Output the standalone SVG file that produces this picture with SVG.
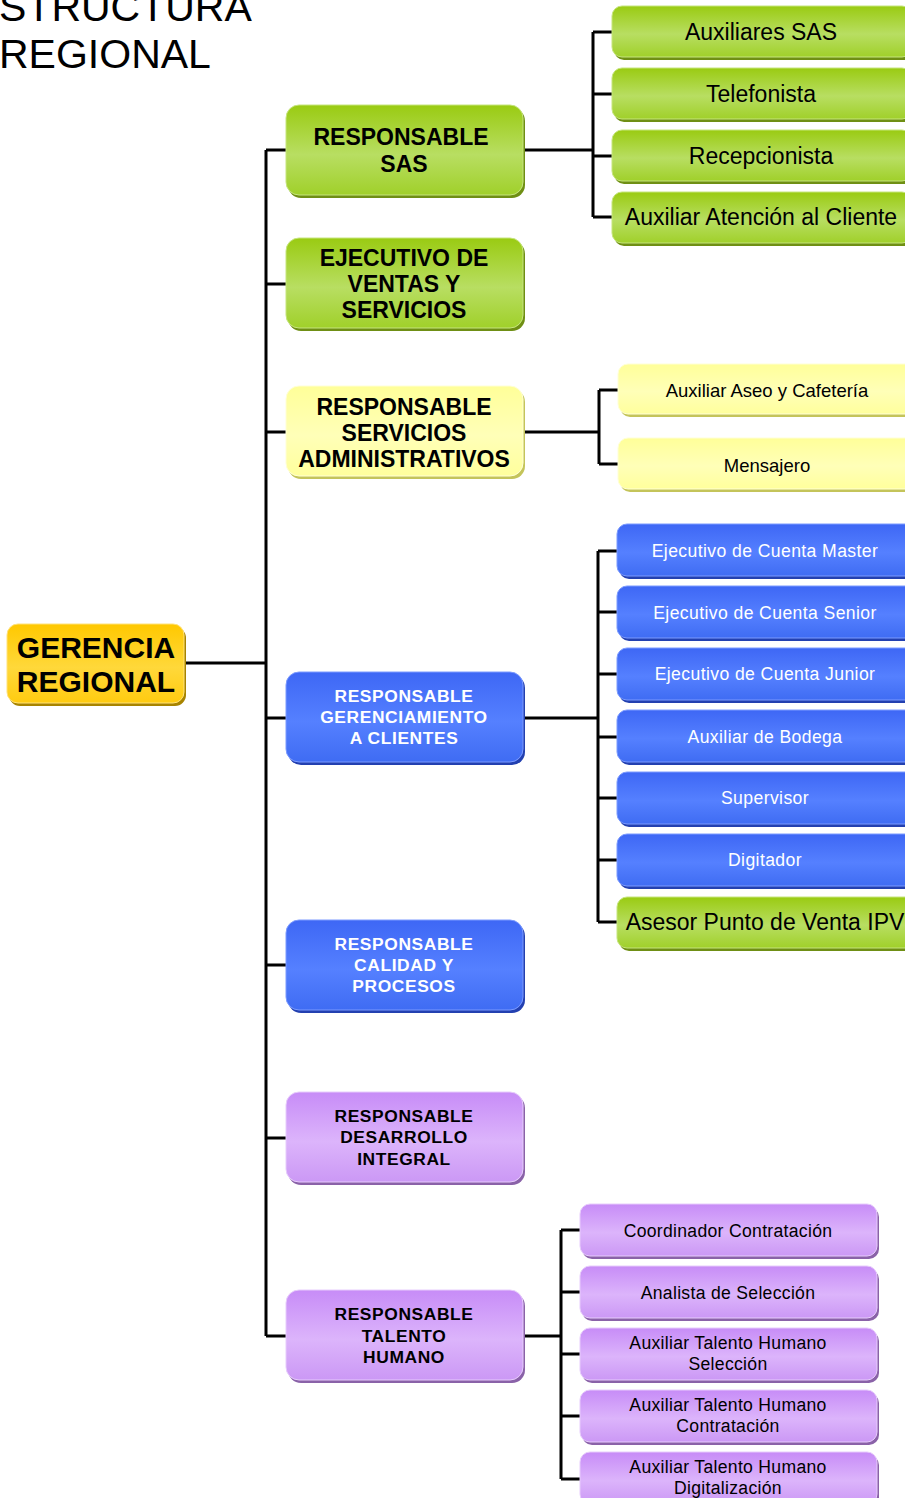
<svg xmlns="http://www.w3.org/2000/svg" width="905" height="1498" viewBox="0 0 905 1498">
<defs>
<linearGradient id="gG" x1="0" y1="0" x2="0" y2="1"><stop offset="0" stop-color="#9ACB12"/><stop offset="0.55" stop-color="#B8DE62"/><stop offset="1" stop-color="#A0D02A"/></linearGradient>
<linearGradient id="gB" x1="0" y1="0" x2="0" y2="1"><stop offset="0" stop-color="#3E67F5"/><stop offset="0.55" stop-color="#5580FF"/><stop offset="1" stop-color="#3F6CF3"/></linearGradient>
<linearGradient id="gY" x1="0" y1="0" x2="0" y2="1"><stop offset="0" stop-color="#FFFF99"/><stop offset="0.55" stop-color="#FFFFB8"/><stop offset="1" stop-color="#FFFF9C"/></linearGradient>
<linearGradient id="gP" x1="0" y1="0" x2="0" y2="1"><stop offset="0" stop-color="#C78CF7"/><stop offset="0.55" stop-color="#DCB4FB"/><stop offset="1" stop-color="#CB98F5"/></linearGradient>
<linearGradient id="gO" x1="0" y1="0" x2="0" y2="1"><stop offset="0" stop-color="#FFC800"/><stop offset="0.55" stop-color="#FFD83A"/><stop offset="1" stop-color="#FFCB10"/></linearGradient>
</defs>
<style>
text{font-family:"Liberation Sans",Arial,sans-serif;text-anchor:middle;dominant-baseline:central}
.title{font-size:41px;text-anchor:start;dominant-baseline:auto;fill:#000}
.sG{fill:#6F8F14}.fG{fill:url(#gG);stroke:#C6E57E;stroke-width:1}
.sB{fill:#2340B0}.fB{fill:url(#gB);stroke:#7C9BFF;stroke-width:1}
.sY{fill:#C4C45A}.fY{fill:url(#gY);stroke:#FFFFD6;stroke-width:1}
.sP{fill:#8A62A8}.fP{fill:url(#gP);stroke:#E7CCFC;stroke-width:1}
.sO{fill:#A88400}.fO{fill:url(#gO);stroke:#FFE27A;stroke-width:1}
.b20{font-size:23px;font-weight:bold;fill:#000}
.b16w{font-size:17.4px;font-weight:bold;fill:#fff;letter-spacing:0.6px}
.b16k{font-size:17.4px;font-weight:bold;fill:#000;letter-spacing:0.6px}
.g27{font-size:30px;font-weight:bold;fill:#000}
.c20{font-size:23px;fill:#000}
.c15{font-size:18.5px;fill:#000}
.c16w{font-size:17.6px;fill:#fff;letter-spacing:0.4px}
.c16k{font-size:17.6px;fill:#000;letter-spacing:0.3px}
.c21{font-size:23px;fill:#000}
.ln{fill:none;stroke:#000;stroke-width:3}
</style>

<text class="title" x="-1" y="21">STRUCTURA</text>
<text class="title" x="-1" y="68">REGIONAL</text>

<g id="connectors">
<path class="ln" d="M184 663H266M266 150V1336M266 150H286M266 284H286M266 432H286M266 718H286M266 965H286M266 1138H286M266 1336H286"/>
<path class="ln" d="M523 150H593M593 32V217M593 32H612M593 94H612M593 156H612M593 217H612"/>
<path class="ln" d="M523 432H599M599 390V464M599 390H618M599 464H618"/>
<path class="ln" d="M523 718H598M598 551V922M598 551H617M598 612H617M598 674H617M598 737H617M598 798H617M598 860H617M598 922H617"/>
<path class="ln" d="M523 1336H561M561 1230V1479M561 1230H580M561 1292H580M561 1354H580M561 1416H580M561 1479H580"/>
</g>

<g id="gerencia">
<rect class="sO" x="9" y="627" width="177" height="79" rx="11"/>
<rect class="fO" x="7" y="624" width="177" height="79" rx="11"/>
<text class="g27" x="96" y="647">GERENCIA</text>
<text class="g27" x="96" y="681">REGIONAL</text>
</g>

<g id="resp-sas">
<rect class="sG" x="288" y="108" width="237" height="90" rx="13"/>
<rect class="fG" x="286" y="105" width="237" height="90" rx="13"/>
<text class="b20" x="401" y="137">RESPONSABLE</text>
<text class="b20" x="404" y="164">SAS</text>
</g>
<g id="ejecutivo-ventas">
<rect class="sG" x="288" y="241" width="237" height="90" rx="13"/>
<rect class="fG" x="286" y="238" width="237" height="90" rx="13"/>
<text class="b20" x="404" y="258">EJECUTIVO DE</text>
<text class="b20" x="404" y="284">VENTAS Y</text>
<text class="b20" x="404" y="310">SERVICIOS</text>
</g>
<g id="resp-serv-admin">
<rect class="sY" x="288" y="389" width="237" height="90" rx="13"/>
<rect class="fY" x="286" y="386" width="237" height="90" rx="13"/>
<text class="b20" x="404" y="407">RESPONSABLE</text>
<text class="b20" x="404" y="433">SERVICIOS</text>
<text class="b20" x="404" y="459">ADMINISTRATIVOS</text>
</g>
<g id="resp-gerenciamiento">
<rect class="sB" x="288" y="675" width="237" height="90" rx="13"/>
<rect class="fB" x="286" y="672" width="237" height="90" rx="13"/>
<text class="b16w" x="404" y="696">RESPONSABLE</text>
<text class="b16w" x="404" y="717">GERENCIAMIENTO</text>
<text class="b16w" x="404" y="738">A CLIENTES</text>
</g>
<g id="resp-calidad">
<rect class="sB" x="288" y="923" width="237" height="90" rx="13"/>
<rect class="fB" x="286" y="920" width="237" height="90" rx="13"/>
<text class="b16w" x="404" y="944">RESPONSABLE</text>
<text class="b16w" x="404" y="965">CALIDAD Y</text>
<text class="b16w" x="404" y="986">PROCESOS</text>
</g>
<g id="resp-desarrollo">
<rect class="sP" x="288" y="1095" width="237" height="90" rx="13"/>
<rect class="fP" x="286" y="1092" width="237" height="90" rx="13"/>
<text class="b16k" x="404" y="1116">RESPONSABLE</text>
<text class="b16k" x="404" y="1137">DESARROLLO</text>
<text class="b16k" x="404" y="1159">INTEGRAL</text>
</g>
<g id="resp-talento">
<rect class="sP" x="288" y="1293" width="237" height="90" rx="13"/>
<rect class="fP" x="286" y="1290" width="237" height="90" rx="13"/>
<text class="b16k" x="404" y="1314">RESPONSABLE</text>
<text class="b16k" x="404" y="1336">TALENTO</text>
<text class="b16k" x="404" y="1357">HUMANO</text>
</g>

<g id="auxiliares-sas">
<rect class="sG" x="614" y="9" width="300" height="51" rx="10"/>
<rect class="fG" x="612" y="6" width="300" height="51" rx="10"/>
<text class="c20" x="761" y="32">Auxiliares SAS</text>
</g>
<g id="telefonista">
<rect class="sG" x="614" y="71" width="300" height="51" rx="10"/>
<rect class="fG" x="612" y="68" width="300" height="51" rx="10"/>
<text class="c20" x="761" y="94">Telefonista</text>
</g>
<g id="recepcionista">
<rect class="sG" x="614" y="133" width="300" height="51" rx="10"/>
<rect class="fG" x="612" y="130" width="300" height="51" rx="10"/>
<text class="c20" x="761" y="156">Recepcionista</text>
</g>
<g id="aux-atencion">
<rect class="sG" x="614" y="195" width="300" height="51" rx="10"/>
<rect class="fG" x="612" y="192" width="300" height="51" rx="10"/>
<text class="c20" x="761" y="217">Auxiliar Atención al Cliente</text>
</g>

<g id="aux-aseo">
<rect class="sY" x="620" y="367" width="300" height="50" rx="10"/>
<rect class="fY" x="618" y="364" width="300" height="50" rx="10"/>
<text class="c15" x="767" y="390">Auxiliar Aseo y Cafetería</text>
</g>
<g id="mensajero">
<rect class="sY" x="620" y="441" width="300" height="51" rx="10"/>
<rect class="fY" x="618" y="438" width="300" height="51" rx="10"/>
<text class="c15" x="767" y="465">Mensajero</text>
</g>

<g id="ejec-master">
<rect class="sB" x="619" y="527" width="300" height="52" rx="10"/>
<rect class="fB" x="617" y="524" width="300" height="52" rx="10"/>
<text class="c16w" x="765" y="551">Ejecutivo de Cuenta Master</text>
</g>
<g id="ejec-senior">
<rect class="sB" x="619" y="589" width="300" height="52" rx="10"/>
<rect class="fB" x="617" y="586" width="300" height="52" rx="10"/>
<text class="c16w" x="765" y="613">Ejecutivo de Cuenta Senior</text>
</g>
<g id="ejec-junior">
<rect class="sB" x="619" y="651" width="300" height="52" rx="10"/>
<rect class="fB" x="617" y="648" width="300" height="52" rx="10"/>
<text class="c16w" x="765" y="674">Ejecutivo de Cuenta Junior</text>
</g>
<g id="aux-bodega">
<rect class="sB" x="619" y="713" width="300" height="52" rx="10"/>
<rect class="fB" x="617" y="710" width="300" height="52" rx="10"/>
<text class="c16w" x="765" y="737">Auxiliar de Bodega</text>
</g>
<g id="supervisor">
<rect class="sB" x="619" y="775" width="300" height="52" rx="10"/>
<rect class="fB" x="617" y="772" width="300" height="52" rx="10"/>
<text class="c16w" x="765" y="798">Supervisor</text>
</g>
<g id="digitador">
<rect class="sB" x="619" y="837" width="300" height="52" rx="10"/>
<rect class="fB" x="617" y="834" width="300" height="52" rx="10"/>
<text class="c16w" x="765" y="860">Digitador</text>
</g>
<g id="asesor-ipv">
<rect class="sG" x="619" y="900" width="300" height="51" rx="10"/>
<rect class="fG" x="617" y="897" width="300" height="51" rx="10"/>
<text class="c21" x="765" y="922">Asesor Punto de Venta IPV</text>
</g>

<g id="coord-contratacion">
<rect class="sP" x="582" y="1207" width="297" height="52" rx="10"/>
<rect class="fP" x="580" y="1204" width="297" height="52" rx="10"/>
<text class="c16k" x="728" y="1231">Coordinador Contratación</text>
</g>
<g id="analista-seleccion">
<rect class="sP" x="582" y="1269" width="297" height="52" rx="10"/>
<rect class="fP" x="580" y="1266" width="297" height="52" rx="10"/>
<text class="c16k" x="728" y="1293">Analista de Selección</text>
</g>
<g id="aux-th-seleccion">
<rect class="sP" x="582" y="1331" width="297" height="52" rx="10"/>
<rect class="fP" x="580" y="1328" width="297" height="52" rx="10"/>
<text class="c16k" x="728" y="1343">Auxiliar Talento Humano</text>
<text class="c16k" x="728" y="1364">Selección</text>
</g>
<g id="aux-th-contratacion">
<rect class="sP" x="582" y="1393" width="297" height="52" rx="10"/>
<rect class="fP" x="580" y="1390" width="297" height="52" rx="10"/>
<text class="c16k" x="728" y="1405">Auxiliar Talento Humano</text>
<text class="c16k" x="728" y="1426">Contratación</text>
</g>
<g id="aux-th-digitalizacion">
<rect class="sP" x="582" y="1455" width="297" height="52" rx="10"/>
<rect class="fP" x="580" y="1452" width="297" height="52" rx="10"/>
<text class="c16k" x="728" y="1467">Auxiliar Talento Humano</text>
<text class="c16k" x="728" y="1488">Digitalización</text>
</g>
</svg>
